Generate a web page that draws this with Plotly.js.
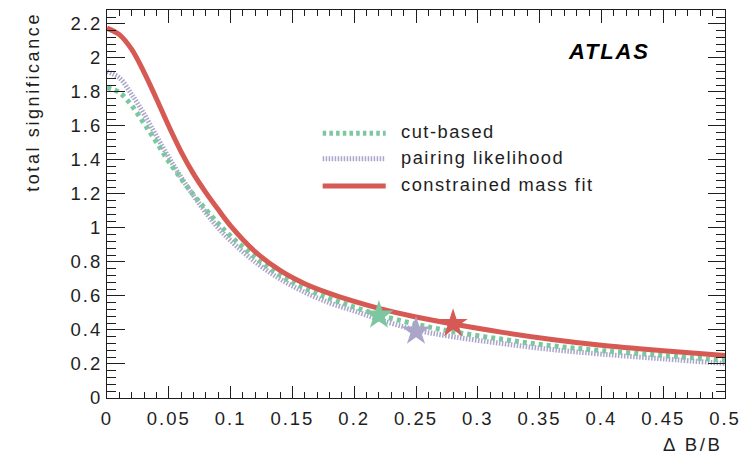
<!DOCTYPE html>
<html>
<head>
<meta charset="utf-8">
<script src="https://cdn.plot.ly/plotly-3.0.1.min.js"></script>
<style>
  html, body { margin: 0; padding: 0; background: #fff; }
  #chart { width: 753px; height: 462px; }
  .xtick text, .ytick text { letter-spacing: 2px; }
</style>
</head>
<body>
<div id="chart"></div>
<script>
// relative background uncertainty on the x axis
const deltaBoverB = [0, 0.01, 0.02, 0.03, 0.04, 0.05, 0.06, 0.07, 0.08, 0.09, 0.10,
                     0.12, 0.14, 0.16, 0.18, 0.20, 0.22, 0.25, 0.28, 0.32, 0.36, 0.40, 0.45, 0.50];

// total significance per selection method
const cutBased = [1.825, 1.797, 1.72, 1.615, 1.505, 1.39, 1.29, 1.195, 1.108, 1.026, 0.953,
                  0.826, 0.722, 0.646, 0.585, 0.535, 0.488, 0.434, 0.39, 0.345, 0.307, 0.279, 0.25, 0.222];
const pairingLikelihood = [1.92, 1.883, 1.785, 1.67, 1.54, 1.415, 1.298, 1.19, 1.09, 1.0, 0.925,
                           0.80, 0.70, 0.622, 0.56, 0.512, 0.462, 0.40, 0.36, 0.32, 0.285, 0.258, 0.23, 0.203];
const constrainedMassFit = [2.175, 2.137, 2.05, 1.915, 1.76, 1.598, 1.448, 1.318, 1.208, 1.108, 1.013,
                            0.86, 0.75, 0.672, 0.615, 0.568, 0.527, 0.476, 0.435, 0.386, 0.344, 0.31, 0.278, 0.25];

// working points (star markers)
const workingPointX = [0.22, 0.25, 0.28];
const workingPointY = [0.486, 0.392, 0.437];

const seriesNames = ['cut-based', 'pairing likelihood', 'constrained mass fit'];

const GREEN = '#7cc7a0';
const PURPLE = '#aaa5c9';
const RED = '#d65953';
const INK = '#1e1e1e';
const FONT = 'Liberation Sans, Arial, sans-serif';

const traces = [
  {
    x: deltaBoverB, y: pairingLikelihood, name: seriesNames[1],
    mode: 'lines', line: { color: PURPLE, width: 5, dash: '1.5px,1.5px', shape: 'spline', smoothing: 1 }
  },
  {
    x: deltaBoverB, y: cutBased, name: seriesNames[0],
    mode: 'lines', line: { color: GREEN, width: 5, dash: '4px,4px', shape: 'spline', smoothing: 1 }
  },
  {
    x: deltaBoverB, y: constrainedMassFit, name: seriesNames[2],
    mode: 'lines', line: { color: RED, width: 5, shape: 'spline', smoothing: 1 }
  },
  {
    x: workingPointX, y: workingPointY, mode: 'markers',
    marker: { symbol: 'star', size: 22, color: [GREEN, PURPLE, RED], line: { width: 0 } }
  }
];

// legend drawn as line samples + labels in paper coordinates
const legendX0 = 0.349, legendX1 = 0.451, legendTextX = 0.472;
const legendRows = [
  { y: 0.6826, color: GREEN, dash: '3.5px,3.2px', label: seriesNames[0] },
  { y: 0.6167, color: PURPLE, dash: '1.5px,1.5px', label: seriesNames[1] },
  { y: 0.5461, color: RED, dash: 'solid', label: seriesNames[2] }
];

const shapes = legendRows.map(r => ({
  type: 'line', xref: 'paper', yref: 'paper',
  x0: legendX0, x1: legendX1, y0: r.y, y1: r.y,
  line: { color: r.color, width: 5, dash: r.dash }
}));

const annotations = legendRows.map(r => ({
  xref: 'paper', yref: 'paper', x: legendTextX, y: r.y + 0.004,
  xanchor: 'left', yanchor: 'middle', showarrow: false,
  text: '<span style="letter-spacing:1.5px">' + r.label + '</span>',
  font: { family: FONT, size: 18.3, color: INK }
}));

annotations.push(
  {
    xref: 'paper', yref: 'paper', x: 0.812, y: 0.892, xanchor: 'center', yanchor: 'middle',
    showarrow: false,
    text: '<span style="letter-spacing:1.8px"><b><i>ATLAS</i></b></span>',
    font: { family: FONT, size: 22, color: '#000' }
  },
  {
    xref: 'paper', yref: 'paper', x: 1.0, y: -0.119, xanchor: 'right', yanchor: 'middle',
    showarrow: false,
    text: '<span style="letter-spacing:2.6px">Δ B/B</span>',
    font: { family: FONT, size: 18.6, color: INK }
  },
  {
    xref: 'paper', yref: 'paper', x: -0.12, y: 1.0, xanchor: 'center', yanchor: 'top',
    showarrow: false, textangle: -90,
    text: '<span style="letter-spacing:2.6px">total significance</span>',
    font: { family: FONT, size: 18, color: INK }
  }
);

const axisCommon = {
  showline: true, linecolor: INK, linewidth: 1, mirror: 'ticks',
  showgrid: false, zeroline: false, ticks: 'inside', tickcolor: INK, tickwidth: 1,
  tickfont: { family: FONT, size: 18.5, color: INK }
};

const layout = {
  width: 753, height: 462,
  margin: { l: 107, r: 28, t: 10, b: 64 },
  paper_bgcolor: '#fff', plot_bgcolor: '#fff',
  showlegend: false,
  xaxis: Object.assign({}, axisCommon, {
    range: [0, 0.5], dtick: 0.05, tick0: 0, ticklen: 12.5, tickangle: 0,
    ticklabelstandoff: 4,
    minor: { ticks: 'inside', dtick: 0.01, ticklen: 6, tickcolor: INK, tickwidth: 1 }
  }),
  yaxis: Object.assign({}, axisCommon, {
    range: [0, 2.282], dtick: 0.2, tick0: 0, ticklen: 17.5,
    minor: { ticks: 'inside', dtick: 0.04, ticklen: 9, tickcolor: INK, tickwidth: 1 }
  }),
  shapes: shapes,
  annotations: annotations
};

Plotly.newPlot('chart', traces, layout, { staticPlot: true, displayModeBar: false });
</script>
</body>
</html>
